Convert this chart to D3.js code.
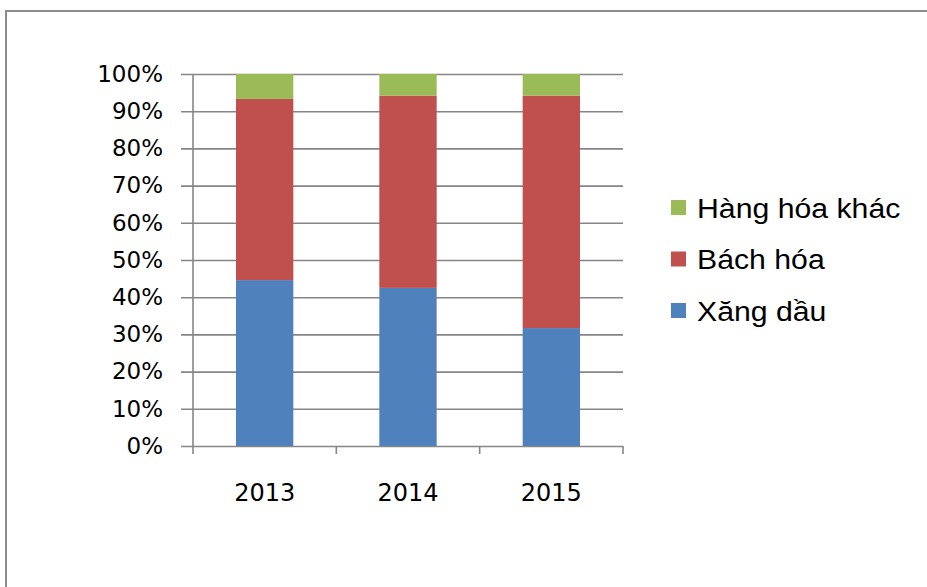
<!DOCTYPE html>
<html>
<head>
<meta charset="utf-8">
<script src="https://cdn.jsdelivr.net/npm/d3@7"></script>
<style>
  body { margin: 0; background: #fff; }
  svg { display: block; }
</style>
</head>
<body>
<div id="chart"></div>
<script>
// data (share of total, %)
const years = ['2013', '2014', '2015'];
const xangDau = [44.6, 42.5, 31.7];
const bachHoa = [48.7, 51.7, 62.5];
const hangHoaKhac = [6.7, 5.8, 5.8];
const seriesNames = ['Xăng dầu', 'Bách hóa', 'Hàng hóa khác'];
const seriesColors = ['#4f81bd', '#c0504d', '#9bbb59'];
const yTicks = [0, 10, 20, 30, 40, 50, 60, 70, 80, 90, 100];

const width = 927, height = 587;
const margin = {top: 74, left: 193, right: 304, bottom: 141};
const plotW = width - margin.left - margin.right;
const plotH = height - margin.top - margin.bottom;
const gridColor = '#868686';

const rows = years.map((y, i) => ({
    year: y, 'Xăng dầu': xangDau[i], 'Bách hóa': bachHoa[i], 'Hàng hóa khác': hangHoaKhac[i]
}));
const stacked = d3.stack().keys(seriesNames)(rows);

const svg = d3.select('#chart').append('svg')
    .attr('width', width)
    .attr('height', height);

// outer frame (left + top only visible)
svg.append('path')
    .attr('d', `M6,${height} L6,11 L${width},11`)
    .attr('fill', 'none')
    .attr('stroke', '#8c8c8c')
    .attr('stroke-width', 2);

const chart = svg.append('g')
    .attr('transform', `translate(${margin.left},${margin.top})`);

const xScale = d3.scaleBand()
    .domain(years)
    .range([0, plotW])
    .paddingInner(0.6)
    .paddingOuter(0.3);

const yScale = d3.scaleLinear()
    .domain([0, 100])
    .range([plotH, 0]);

// gridlines + y axis
const yAxis = d3.axisLeft(yScale)
    .tickValues(yTicks)
    .tickSize(-plotW)
    .tickPadding(30)
    .tickFormat(d => d + '%');

const yAxisG = chart.append('g')
    .attr('class', 'y-axis')
    .call(yAxis);
yAxisG.select('.domain').remove();
yAxisG.selectAll('.tick line')
    .attr('x1', -12)
    .attr('stroke', gridColor)
    .attr('stroke-width', 1.6);
yAxisG.selectAll('.tick text')
    .attr('fill', '#000')
    .style('font-family', 'DejaVu Sans')
    .style('font-size', '23px');

// vertical axis line
chart.append('line')
    .attr('x1', 0).attr('x2', 0)
    .attr('y1', 0).attr('y2', plotH + 8)
    .attr('stroke', gridColor)
    .attr('stroke-width', 1.6);

// bars
chart.append('g').selectAll('g')
    .data(stacked)
    .join('g')
    .attr('fill', (d, i) => seriesColors[i])
    .selectAll('rect')
    .data(d => d)
    .join('rect')
    .attr('x', d => xScale(d.data.year))
    .attr('width', xScale.bandwidth())
    .attr('y', d => yScale(d[1]))
    .attr('height', d => yScale(d[0]) - yScale(d[1]));

// x axis: category boundary ticks
const step = plotW / years.length;
chart.append('g')
    .selectAll('line')
    .data(d3.range(1, years.length + 1))
    .join('line')
    .attr('x1', d => d * step).attr('x2', d => d * step)
    .attr('y1', plotH).attr('y2', plotH + 8)
    .attr('stroke', gridColor)
    .attr('stroke-width', 1.6);

chart.append('g')
    .selectAll('text')
    .data(years)
    .join('text')
    .attr('x', d => xScale(d) + xScale.bandwidth() / 2)
    .attr('y', plotH + 55)
    .attr('text-anchor', 'middle')
    .style('font-family', 'DejaVu Sans')
    .style('font-size', '24px')
    .text(d => d);

// legend (reverse order, top = Hàng hóa khác)
const legend = svg.append('g')
    .attr('transform', 'translate(671,208)');
const legendItems = seriesNames.map((n, i) => ({name: n, color: seriesColors[i]})).reverse();
const li = legend.selectAll('g')
    .data(legendItems)
    .join('g')
    .attr('transform', (d, i) => `translate(0,${i * 51.5})`);
li.append('rect')
    .attr('x', 0).attr('y', -8)
    .attr('width', 15).attr('height', 15)
    .attr('fill', d => d.color);
li.append('text')
    .attr('transform', 'translate(26,0) scale(1.12,1)')
    .attr('dy', '0.36em')
    .style('font-family', 'Liberation Sans, Arial')
    .style('font-size', '27px')
    .text(d => d.name);
</script>
</body>
</html>
